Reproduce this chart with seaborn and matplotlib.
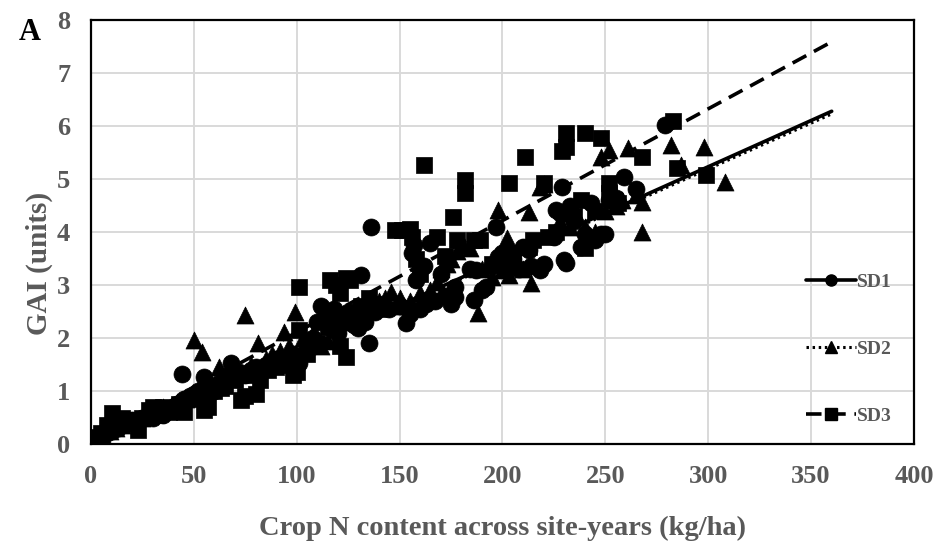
import numpy as np
import pandas as pd
import matplotlib
matplotlib.use("Agg")
import matplotlib.pyplot as plt
import seaborn as sns
from matplotlib.lines import Line2D

# ---- data ----
sd1_x = [0,1,2,3,5,8,10,13,15,18,20,22,25,28,30,32,35,38,40,42,44,45,48,50,52,55,55,58,60,62,65,68,70,72,75,78,80,85,88,90,95,98,101,
         105,108,110,112,114,116,118,120,122,125,128,130,131,133,135,136,138,140,145,150,153,155,156,157,158,160,160,162,163,165,167,170,172,175,177,177,
         184,187,186,190,192,195,197,198,200,203,205,208,210,213,214,218,220,225,226,228,229,230,231,233,235,238,240,243,245,248,250,252,255,259,265,279]
sd1_y = [0.0,0.02,0.05,0.08,0.1,0.2,0.25,0.3,0.35,0.4,0.45,0.35,0.5,0.55,0.5,0.6,0.55,0.65,0.7,0.75,1.33,0.85,0.9,0.95,1.0,1.27,1.05,1.1,1.0,1.15,1.2,1.52,1.25,1.35,1.3,1.4,1.45,1.5,1.45,1.6,1.55,1.7,1.52,
         1.8,2.0,2.3,2.6,2.45,2.3,2.55,2.1,2.4,2.5,2.25,2.19,3.19,2.3,1.9,4.1,2.5,2.6,2.55,2.6,2.28,2.45,3.6,3.75,3.09,2.55,3.3,3.35,2.65,3.8,2.7,3.2,2.8,2.65,2.78,2.97,
         3.3,3.28,2.72,2.9,2.97,3.35,4.1,3.53,3.6,3.35,3.5,3.3,3.72,3.66,3.35,3.28,3.4,3.9,4.42,4.35,4.85,3.47,3.41,4.5,4.2,3.72,3.97,4.55,3.85,3.97,3.97,4.6,4.65,5.04,4.82,6.02]

sd2_x = [0,2,4,6,9,12,15,18,22,25,28,32,35,38,42,46,50,54,50,55,58,62,65,68,72,75,78,81,85,88,92,94,96,99,
         103,105,108,112,115,118,120,124,128,132,136,140,143,146,150,152,155,160,165,168,170,173,175,178,181,184,188,190,195,198,200,202,203,206,210,213,214,218,220,
         225,228,230,233,236,240,245,248,250,252,255,258,261,265,268,268,282,287,298,308]
sd2_y = [0.0,0.05,0.1,0.15,0.25,0.3,0.35,0.4,0.45,0.5,0.55,0.6,0.7,0.65,0.8,0.85,1.96,1.74,0.95,1.0,1.1,1.46,1.3,1.4,1.35,2.43,1.5,1.9,1.6,1.7,1.75,2.12,1.85,2.5,
         2.0,1.85,2.1,1.85,1.95,2.2,2.4,2.3,2.55,2.5,2.6,2.7,2.75,2.87,2.75,2.6,2.7,2.85,2.9,3.05,3.3,3.4,3.5,3.65,3.75,3.7,2.47,3.3,3.15,4.42,3.28,3.88,3.18,3.5,3.3,4.38,3.03,4.85,4.9,
         4.0,4.2,4.35,4.1,4.3,4.1,4.0,5.42,4.4,5.55,4.5,4.6,5.58,4.7,4.57,4.0,5.64,5.26,5.61,4.95]

sd3_x = [1,3,5,8,10,12,15,18,20,23,25,28,30,32,35,38,40,43,45,48,52,55,57,60,63,65,70,73,75,78,80,82,86,90,95,98,100,101,101,
         105,110,115,116,119,121,121,124,124,126,128,131,135,138,140,148,151,155,156,158,160,162,168,172,176,178,182,182,186,189,195,
         203,205,211,213,215,220,222,226,229,231,231,235,238,240,240,245,248,252,252,256,268,283,285,299]
sd3_y = [0.05,0.14,0.2,0.35,0.58,0.45,0.5,0.4,0.45,0.26,0.5,0.65,0.7,0.55,0.7,0.6,0.65,0.75,0.6,0.85,0.9,0.65,0.7,1.0,1.05,1.1,1.2,0.83,0.9,1.3,0.95,1.2,1.4,1.45,1.5,1.3,1.35,2.15,2.97,
         1.7,1.9,2.2,3.09,3.0,1.84,2.85,3.13,1.65,3.1,2.5,2.6,2.75,2.65,2.55,4.04,4.04,4.05,3.9,3.5,3.2,5.26,3.91,3.55,4.29,3.85,4.98,4.73,3.85,3.85,3.4,
         4.92,3.6,5.42,3.72,3.85,4.92,3.9,4.0,5.52,5.86,5.61,4.3,4.6,3.7,5.86,4.4,5.77,4.92,4.73,4.55,5.42,6.1,5.2,5.08]

series = ["SD1", "SD2", "SD3"]
trend_slopes = [0.01744, 0.01730, 0.02108]
trend_x_range = [0, 360]
x_ticks = [0, 50, 100, 150, 200, 250, 300, 350, 400]
y_ticks = [0, 1, 2, 3, 4, 5, 6, 7, 8]

df = pd.concat([
    pd.DataFrame({"x": sd1_x, "y": sd1_y, "series": "SD1"}),
    pd.DataFrame({"x": sd2_x, "y": sd2_y, "series": "SD2"}),
    pd.DataFrame({"x": sd3_x, "y": sd3_y, "series": "SD3"}),
])

sns.set_theme(style="white")
plt.rcParams['font.family'] = ['Liberation Serif', 'DejaVu Serif']
plt.rcParams['font.weight'] = 'bold'

fig = plt.figure(figsize=(9.38, 5.53), dpi=100)
ax = fig.add_axes([0.0970, 0.1971, 0.8774, 0.7667])

markers = {"SD1": "o", "SD2": "^", "SD3": "s"}
sizes = {"SD1": 150, "SD2": 150, "SD3": 140}
for s in ["SD1", "SD2", "SD3"]:
    sns.scatterplot(data=df[df.series == s], x="x", y="y", marker=markers[s],
                    s=sizes[s], color="black", edgecolor="black", linewidth=0.5,
                    ax=ax, zorder=3, legend=False)

styles = {"SD1": dict(linestyle="-", linewidth=2.6),
          "SD2": dict(linestyle=(0, (0.8, 1.2)), linewidth=2.2),
          "SD3": dict(linestyle=(0, (4.3, 2.4)), linewidth=2.6)}
xr = np.array(trend_x_range, dtype=float)
for s, m in zip(series, trend_slopes):
    sns.lineplot(x=xr, y=m * xr, color="black", ax=ax, zorder=4, **styles[s])

ax.set_xlim(0, 400)
ax.set_ylim(0, 8)
ax.set_xticks(x_ticks)
ax.set_yticks(y_ticks)
ax.grid(True, color="#d9d9d9", linewidth=1.4, zorder=0)
ax.set_axisbelow(True)
for sp in ax.spines.values():
    sp.set_color("black")
    sp.set_linewidth(1.6)
ax.tick_params(axis="both", direction="in", length=5, width=1.4, color="black",
               labelsize=19, labelcolor="#595959")
ax.tick_params(axis="x", pad=15)
ax.tick_params(axis="y", pad=15)
for lab in ax.get_xticklabels() + ax.get_yticklabels():
    lab.set_fontweight("bold")

ax.set_xlabel("Crop N content across site-years (kg/ha)", fontsize=20.5, fontweight="bold",
              color="#595959", labelpad=20)
ax.set_ylabel("GAI (units)", fontsize=21, fontweight="bold", color="#595959")
ax.yaxis.set_label_coords(-0.046, 0.425)

fig.text(0.032, 0.942, "A", fontsize=22, fontweight="bold", color="black", ha="center", va="center")

handles = []
for s in series:
    st = styles[s]
    handles.append(Line2D([0], [0], color="black", marker=markers[s], markersize=8,
                          linestyle=st["linestyle"], linewidth=st["linewidth"]))
leg = ax.legend(handles, series, loc="center left", bbox_to_anchor=(0.852, 0.224),
                frameon=False, fontsize=14, labelspacing=2.55, handlelength=2.6,
                handletextpad=0.05, borderpad=0.2)
for t in leg.get_texts():
    t.set_color("#595959")
    t.set_fontweight("bold")

fig.savefig("out.png", dpi=100)
